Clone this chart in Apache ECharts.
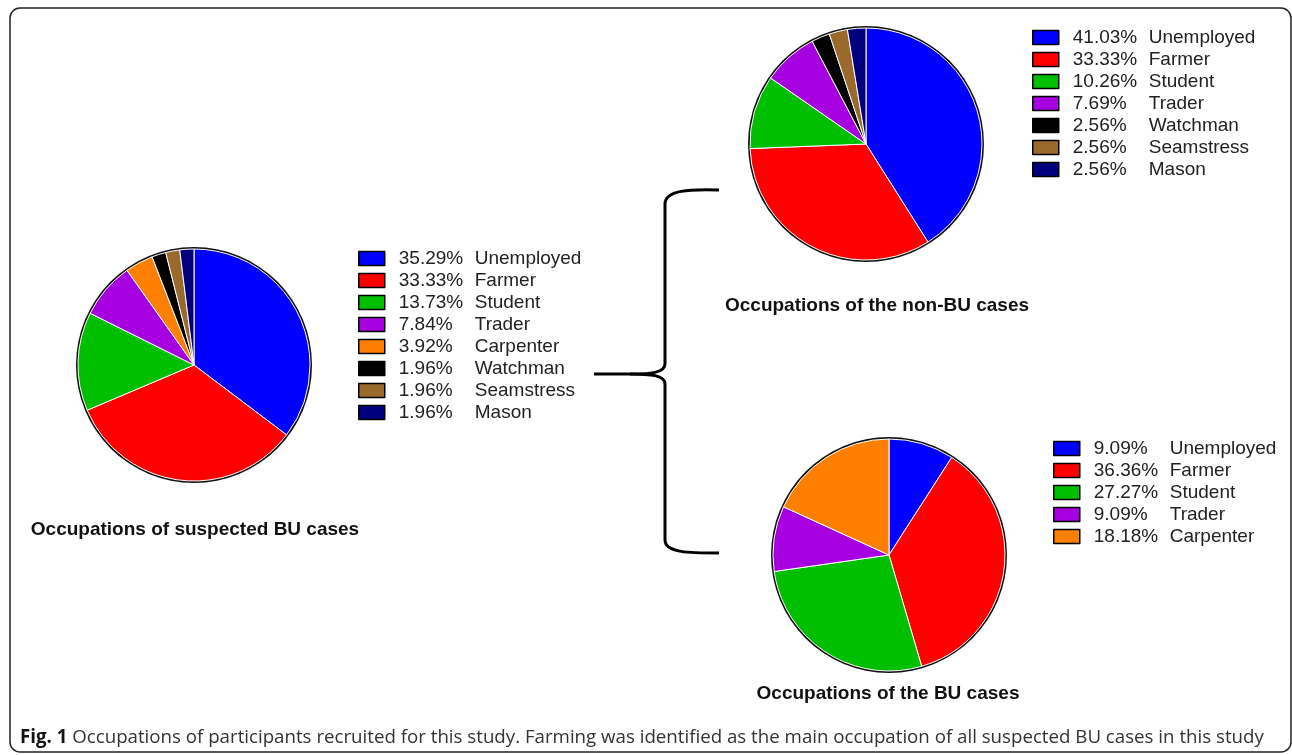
<!DOCTYPE html>
<html>
<head>
<meta charset="utf-8">
<title>Occupations of participants</title>
<script src="https://cdn.jsdelivr.net/npm/echarts@6.0.0/dist/echarts.min.js"></script>
<style>
  html, body { margin: 0; padding: 0; background: #fff; }
  #chart { width: 1292px; height: 755px; }
</style>
</head>
<body>
<div id="chart"></div>
<script>
// data (percent of participants)
const suspectedNames = ['Unemployed', 'Farmer', 'Student', 'Trader', 'Carpenter', 'Watchman', 'Seamstress', 'Mason'];
const suspectedValues = [35.29, 33.33, 13.73, 7.84, 3.92, 1.96, 1.96, 1.96];

const nonBuNames = ['Unemployed', 'Farmer', 'Student', 'Trader', 'Watchman', 'Seamstress', 'Mason'];
const nonBuValues = [41.03, 33.33, 10.26, 7.69, 2.56, 2.56, 2.56];

const buNames = ['Unemployed', 'Farmer', 'Student', 'Trader', 'Carpenter'];
const buValues = [9.09, 36.36, 27.27, 9.09, 18.18];

const occupationColors = {
  Unemployed: '#0000ff',
  Farmer: '#ff0000',
  Student: '#00bf00',
  Trader: '#a600e0',
  Carpenter: '#ff8000',
  Watchman: '#000000',
  Seamstress: '#9a6a2c',
  Mason: '#00007e'
};

const textFont = '"Liberation Sans", Arial, sans-serif';

const makeData = (names, values) => names.map((n, i) => ({
  name: n,
  value: values[i],
  itemStyle: { color: occupationColors[n] }
}));

const pieSeries = (id, names, values, center) => ([
  {
    // black outline behind the slices
    name: id + '_ring',
    type: 'pie',
    silent: true,
    z: 1,
    center: center,
    radius: [0, 118],
    label: { show: false },
    labelLine: { show: false },
    itemStyle: { color: '#111' },
    data: [{ name: 'ring_' + id, value: 1 }]
  },
  {
    name: id,
    type: 'pie',
    z: 2,
    center: center,
    radius: [0, 116],
    startAngle: 90,
    clockwise: true,
    label: { show: false },
    labelLine: { show: false },
    emphasis: { disabled: true },
    itemStyle: { borderColor: '#ffffff', borderWidth: 1 },
    data: makeData(names, values)
  }
]);

const makeLegend = (names, values, left, top) => {
  const pct = {};
  names.forEach((n, i) => { pct[n] = values[i].toFixed(2) + '%'; });
  return {
    orient: 'vertical',
    left: left,
    top: top,
    padding: 0,
    itemWidth: 26,
    itemHeight: 14,
    itemGap: 3,
    icon: 'rect',
    selectedMode: false,
    itemStyle: { borderColor: '#000', borderWidth: 1.5 },
    data: names,
    formatter: name => '{p|' + pct[name] + '}{n|' + name + '}',
    textStyle: {
      color: '#222',
      fontFamily: textFont,
      fontSize: 19,
      rich: {
        p: { fontFamily: textFont, fontSize: 19, lineHeight: 18, color: '#222', width: 76, padding: [0, 0, 0, 9] },
        n: { fontFamily: textFont, fontSize: 19, lineHeight: 18, color: '#222' }
      }
    }
  };
};

const titleStyle = { fontFamily: textFont, fontSize: 19, fontWeight: 'bold', color: '#111' };

const chart = echarts.init(document.getElementById('chart'), null, { renderer: 'canvas' });

const option = {
  backgroundColor: '#fff',
  animation: false,
  title: [
    { text: 'Occupations of suspected BU cases', left: 195, top: 520, textAlign: 'center', padding: 0, textStyle: titleStyle },
    { text: 'Occupations of the non-BU cases', left: 877, top: 296, textAlign: 'center', padding: 0, textStyle: titleStyle },
    { text: 'Occupations of the BU cases', left: 888, top: 684, textAlign: 'center', padding: 0, textStyle: titleStyle }
  ],
  legend: [
    makeLegend(suspectedNames, suspectedValues, 358, 249),
    makeLegend(nonBuNames, nonBuValues, 1032, 28),
    makeLegend(buNames, buValues, 1053, 439)
  ],
  series: [
    ...pieSeries('suspected', suspectedNames, suspectedValues, [194, 365]),
    ...pieSeries('nonBU', nonBuNames, nonBuValues, [866, 144]),
    ...pieSeries('BU', buNames, buValues, [889, 555])
  ],
  graphic: [
    // figure frame
    {
      type: 'rect',
      silent: true,
      shape: { x: 10, y: 8, width: 1281, height: 744, r: 10 },
      style: { fill: 'none', stroke: '#222', lineWidth: 1.5 }
    },
    // curly bracket
    {
      type: 'group',
      silent: true,
      children: [
        { type: 'bezierCurve', shape: { x1: 719, y1: 190, cpx1: 690, cpy1: 189, cpx2: 665, cpy2: 190, x2: 665, y2: 204 }, style: { stroke: '#000', lineWidth: 3, fill: 'none' } },
        { type: 'line', shape: { x1: 665, y1: 204, x2: 665, y2: 364 }, style: { stroke: '#000', lineWidth: 3 } },
        { type: 'bezierCurve', shape: { x1: 665, y1: 364, cpx1: 665, cpy1: 373, cpx2: 650, cpy2: 374, x2: 630, y2: 374 }, style: { stroke: '#000', lineWidth: 3, fill: 'none' } },
        { type: 'line', shape: { x1: 594, y1: 374, x2: 630, y2: 374 }, style: { stroke: '#000', lineWidth: 3 } },
        { type: 'bezierCurve', shape: { x1: 630, y1: 374, cpx1: 650, cpy1: 374, cpx2: 665, cpy2: 375, x2: 665, y2: 384 }, style: { stroke: '#000', lineWidth: 3, fill: 'none' } },
        { type: 'line', shape: { x1: 665, y1: 384, x2: 665, y2: 540 }, style: { stroke: '#000', lineWidth: 3 } },
        { type: 'bezierCurve', shape: { x1: 665, y1: 540, cpx1: 665, cpy1: 553, cpx2: 690, cpy2: 553, x2: 719, y2: 553 }, style: { stroke: '#000', lineWidth: 3, fill: 'none' } }
      ]
    },
    // caption
    {
      type: 'text',
      silent: true,
      left: 20,
      top: 728,
      style: {
        text: '{b|Fig. 1} Occupations of participants recruited for this study. Farming was identified as the main occupation of all suspected BU cases in this study',
        font: '18.7px "Open Sans", sans-serif',
        fill: '#333',
        rich: {
          b: { fontFamily: '"Open Sans", sans-serif', fontSize: 18.7, fontWeight: 'bold', fill: '#111' }
        }
      }
    }
  ]
};

chart.setOption(option);
</script>
</body>
</html>
